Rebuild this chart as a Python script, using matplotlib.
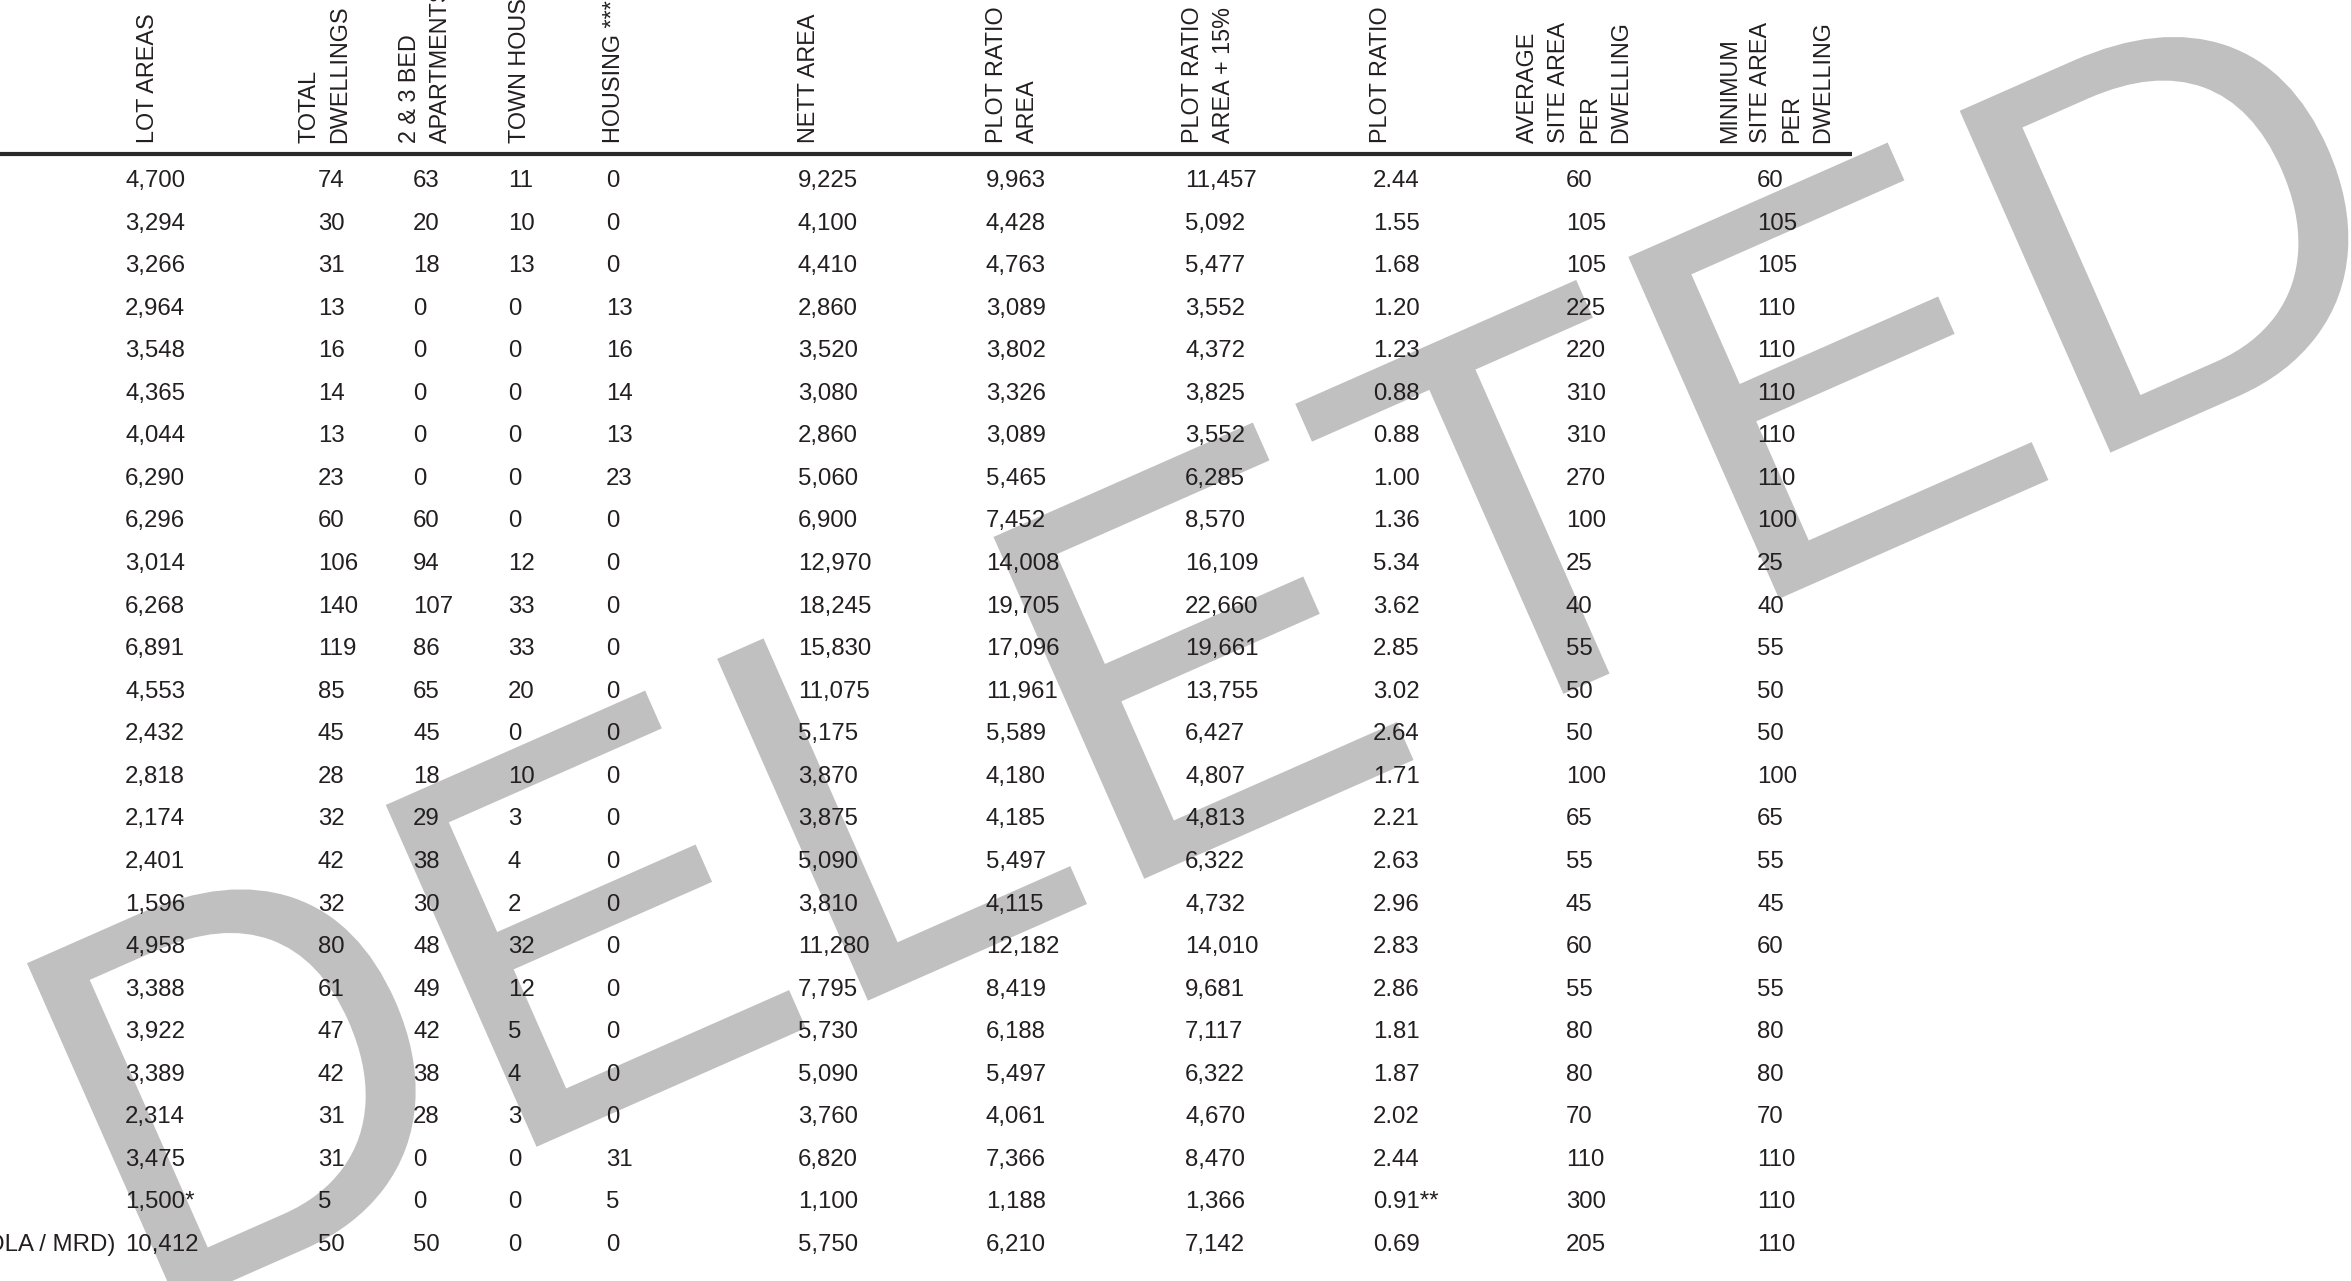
import matplotlib
matplotlib.use("Agg")
import matplotlib.pyplot as plt
from matplotlib.textpath import TextPath
from matplotlib.patches import PathPatch
from matplotlib.font_manager import FontProperties
from matplotlib.transforms import Affine2D

# ---------------- data ----------------
headers = ["LOT AREAS", "TOTAL\nDWELLINGS", "2 & 3 BED\nAPARTMENTS", "TOWN HOUSES",
           "HOUSING ***", "NETT AREA", "PLOT RATIO\nAREA", "PLOT RATIO\nAREA + 15%",
           "PLOT RATIO", "AVERAGE\nSITE AREA\nPER\nDWELLING",
           "MINIMUM\nSITE AREA\nPER\nDWELLING"]

lot_areas = [4700, 3294, 3266, 2964, 3548, 4365, 4044, 6290, 6296, 3014, 6268, 6891, 4553,
             2432, 2818, 2174, 2401, 1596, 4958, 3388, 3922, 3389, 2314, 3475, 1500, 10412]
total_dwellings = [74, 30, 31, 13, 16, 14, 13, 23, 60, 106, 140, 119, 85, 45, 28, 32, 42,
                   32, 80, 61, 47, 42, 31, 31, 5, 50]
apartments = [63, 20, 18, 0, 0, 0, 0, 0, 60, 94, 107, 86, 65, 45, 18, 29, 38, 30, 48, 49,
              42, 38, 28, 0, 0, 50]
town_houses = [11, 10, 13, 0, 0, 0, 0, 0, 0, 12, 33, 33, 20, 0, 10, 3, 4, 2, 32, 12, 5, 4,
               3, 0, 0, 0]
housing = [0, 0, 0, 13, 16, 14, 13, 23, 0, 0, 0, 0, 0, 0, 0, 0, 0, 0, 0, 0, 0, 0, 0, 31, 5, 0]
nett_area = [9225, 4100, 4410, 2860, 3520, 3080, 2860, 5060, 6900, 12970, 18245, 15830,
             11075, 5175, 3870, 3875, 5090, 3810, 11280, 7795, 5730, 5090, 3760, 6820,
             1100, 5750]
plot_ratio_area = [9963, 4428, 4763, 3089, 3802, 3326, 3089, 5465, 7452, 14008, 19705,
                   17096, 11961, 5589, 4180, 4185, 5497, 4115, 12182, 8419, 6188, 5497,
                   4061, 7366, 1188, 6210]
plot_ratio_area_15 = [11457, 5092, 5477, 3552, 4372, 3825, 3552, 6285, 8570, 16109, 22660,
                      19661, 13755, 6427, 4807, 4813, 6322, 4732, 14010, 9681, 7117, 6322,
                      4670, 8470, 1366, 7142]
plot_ratio = [2.44, 1.55, 1.68, 1.20, 1.23, 0.88, 0.88, 1.00, 1.36, 5.34, 3.62, 2.85, 3.02,
              2.64, 1.71, 2.21, 2.63, 2.96, 2.83, 2.86, 1.81, 1.87, 2.02, 2.44, 0.91, 0.69]
avg_site_area = [60, 105, 105, 225, 220, 310, 310, 270, 100, 25, 40, 55, 50, 50, 100, 65,
                 55, 45, 60, 55, 80, 80, 70, 110, 300, 205]
min_site_area = [60, 105, 105, 110, 110, 110, 110, 110, 100, 25, 40, 55, 50, 50, 100, 65,
                 55, 45, 60, 55, 80, 80, 70, 110, 110, 110]
lot_area_notes = {24: "*"}
plot_ratio_notes = {24: "**"}
row_labels = {25: "(OLA / MRD)"}
watermark = "DELETED"

# ---------------- layout ----------------
W, H = 2351, 1281
DPI = 100
FONT = "Liberation Sans"
FS_BODY = 17.3
FS_HEAD = 16.8
TXT = "#231f20"

fig = plt.figure(figsize=(W / DPI, H / DPI), dpi=DPI)
fig.patch.set_facecolor("white")
ax = fig.add_axes([0, 0, 1, 1])
ax.set_xlim(0, W)
ax.set_ylim(H, 0)
ax.axis("off")

# watermark (big rotated grey word behind the table)
tp = TextPath((0, 0), watermark, size=543, prop=FontProperties(family=FONT))
tr = Affine2D().scale(1, -1).rotate_deg(-23.8).translate(137, 1323) + ax.transData
ax.add_patch(PathPatch(tp, transform=tr, facecolor="#c0c0c0", edgecolor="none", zorder=0))

# header
header_x = [136, 297, 398, 508, 602, 797, 985, 1181, 1369, 1516, 1718]
header_bottom = 143
for x, h in zip(header_x, headers):
    ax.text(x, header_bottom, h, rotation=90, ha="left", va="bottom",
            multialignment="left", linespacing=1.45, fontsize=FS_HEAD, family=FONT,
            color=TXT, zorder=3)
ax.plot([0, 1852], [154, 154], color="#2a2a2a", lw=3.0, solid_capstyle="butt", zorder=2)

# body
col_x = [125, 318, 413, 508, 606, 798, 986, 1185, 1373, 1566, 1757]
first_baseline, row_pitch = 187, 42.56


def fmt_int(v):
    return f"{v:,}"


columns = [
    [fmt_int(v) + lot_area_notes.get(i, "") for i, v in enumerate(lot_areas)],
    [str(v) for v in total_dwellings],
    [str(v) for v in apartments],
    [str(v) for v in town_houses],
    [str(v) for v in housing],
    [fmt_int(v) for v in nett_area],
    [fmt_int(v) for v in plot_ratio_area],
    [fmt_int(v) for v in plot_ratio_area_15],
    [f"{v:.2f}" + plot_ratio_notes.get(i, "") for i, v in enumerate(plot_ratio)],
    [str(v) for v in avg_site_area],
    [str(v) for v in min_site_area],
]

for cx, col in zip(col_x, columns):
    for i, s in enumerate(col):
        ax.text(cx, first_baseline + i * row_pitch, s, ha="left", va="baseline",
                fontsize=FS_BODY, family=FONT, color=TXT, zorder=3)

for i, lab in row_labels.items():
    ax.text(115, first_baseline + i * row_pitch, lab, ha="right", va="baseline",
            fontsize=FS_BODY, family=FONT, color=TXT, zorder=3)

fig.savefig("out.png", dpi=DPI, facecolor="white")
